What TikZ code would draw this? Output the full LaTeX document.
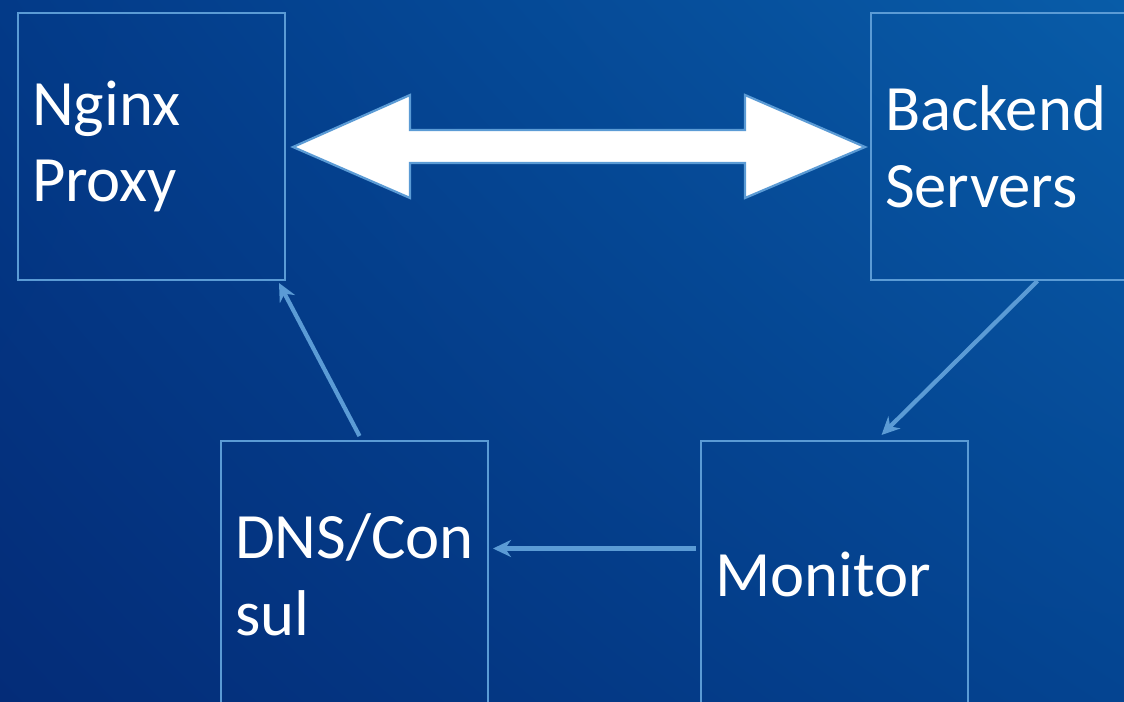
\documentclass[tikz,border=0pt]{standalone}
\usepackage{fontspec}
\setmainfont{Carlito}
\usepackage{xcolor}
\definecolor{bgul}{RGB}{3,58,136}
\definecolor{bgur}{RGB}{8,92,168}
\definecolor{bgll}{RGB}{4,44,120}
\definecolor{bglr}{RGB}{4,68,145}
\definecolor{lblue}{RGB}{91,155,213}
\usetikzlibrary{calc}
\usetikzlibrary{arrows.meta}
\usetikzlibrary{shadings}
\tikzset{
  box/.style={draw=lblue, line width=1.4pt, text=white, align=left,
    minimum width=267*0.025cm, minimum height=267*0.025cm,
    text width=239*0.025cm, inner xsep=14*0.025cm, inner ysep=0pt,
    font=\fontsize{46}{54.6}\selectfont},
  link/.style={draw=lblue, line width=3pt, -{Stealth[length=18*0.025cm, width=17*0.025cm]}},
}

\begin{document}
\begin{tikzpicture}[x=0.025cm, y=-0.025cm]
\useasboundingbox (0,0) rectangle (1124,702);
\clip (0,0) rectangle (1124,702);
\shade[upper left=bgul, upper right=bgur, lower left=bgll, lower right=bglr] (0,0) rectangle (1124,702);
\node [box] (nginx) at (151.5,146.5) {Nginx\\Proxy};
\node [box] (backend) at (1004.5,146.5) {Backend\\Servers};
\node [box] (dns) at (354.5,574.5) {DNS/Con\\sul};
\node [box] (monitor) at (834.5,574.5) {Monitor};
% big two-way arrow
\draw [fill=white, draw=lblue, line width=1.6pt]
  (293,147) -- (410,95) -- (410,130) -- (745,130) -- (745,95) -- (865,147)
  -- (745,198) -- (745,163) -- (410,163) -- (410,198) -- cycle;
\draw [link] ($(dns.north)+(5,-4)$) -- ($(nginx.south east)+(-7,2)$);
\draw [link] ($(backend.south)+(33,0)$) -- ($(monitor.north)+(47,-5)$);
\draw [link] ($(monitor.west)+(-4,-26)$) -- ($(dns.east)+(4,-26)$);
\end{tikzpicture}
\end{document}
